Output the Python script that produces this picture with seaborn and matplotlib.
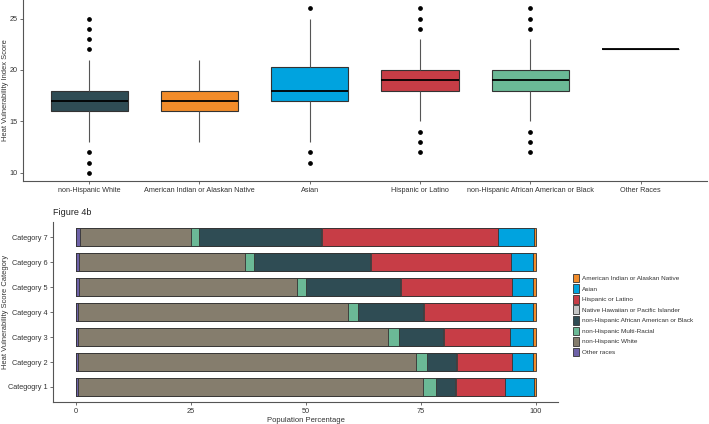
import numpy as np
import pandas as pd
import matplotlib
matplotlib.use('Agg')
import matplotlib.pyplot as plt
from matplotlib.patches import Patch
import seaborn as sns

# top panel: heat vulnerability index score by group (score -> count of tracts)
groups = ['non-Hispanic White', 'American Indian or Alaskan Native', 'Asian',
          'Hispanic or Latino', 'non-Hispanic African American or Black', 'Other Races']
group_colors = ['#2F4C54', '#F28C2A', '#00A3DF', '#C73D46', '#6BB996', '#2F4C54']

white_scores = [10, 11, 12, 13, 14, 15, 16, 17, 18, 19, 20, 21, 22, 23, 24, 25]
white_counts = [1, 1, 1, 2, 5, 10, 20, 25, 20, 10, 5, 2, 1, 1, 1, 1]
aian_scores = [13, 14, 15, 16, 17, 18, 19, 20, 21]
aian_counts = [1, 3, 8, 20, 25, 20, 8, 3, 1]
asian_scores = [11, 12, 13, 14, 15, 16, 17, 18, 19, 20, 21, 22, 23, 24, 25, 26]
asian_counts = [1, 1, 2, 3, 4, 7, 15, 12, 8, 7, 8, 5, 3, 2, 1, 1]
hisp_scores = [12, 13, 14, 15, 16, 17, 18, 19, 20, 21, 22, 23, 24, 25, 26]
hisp_counts = [1, 1, 1, 3, 6, 12, 25, 30, 25, 12, 6, 3, 1, 1, 1]
black_scores = [12, 13, 14, 15, 16, 17, 18, 19, 20, 21, 22, 23, 24, 25, 26]
black_counts = [1, 1, 1, 3, 6, 12, 25, 30, 25, 12, 6, 3, 1, 1, 1]
other_scores = [22]
other_counts = [3]

# bottom panel: population percentage by HVI score category (top to bottom)
categories = ['Category 7', 'Category 6', 'Category 5', 'Category 4',
              'Category 3', 'Category 2', 'Categogry 1']
races = ['Other races', 'non-Hispanic White', 'non-Hispanic Multi-Racial',
         'non-Hispanic African American or Black', 'Native Hawaiian or Pacific Islander',
         'Hispanic or Latino', 'Asian', 'American Indian or Alaskan Native']
other_pct = [0.8, 0.7, 0.6, 0.5, 0.5, 0.5, 0.5]
white_pct = [24.1, 36.1, 47.4, 58.7, 67.4, 73.5, 74.9]
multi_pct = [1.9, 1.8, 2.1, 2.2, 2.3, 2.3, 2.8]
black_pct = [26.4, 25.4, 20.4, 14.1, 9.6, 6.3, 4.3]
nhpi_pct = [0.2, 0.2, 0.2, 0.2, 0.2, 0.2, 0.2]
hisp_pct = [38.4, 30.4, 24.0, 18.8, 14.4, 11.9, 10.6]
asian_pct = [7.8, 4.8, 4.7, 4.8, 4.9, 4.6, 6.2]
aian_pct = [0.4, 0.6, 0.6, 0.7, 0.7, 0.7, 0.5]
race_colors = ['#6E62A8', '#857D6D', '#6BB996', '#2F4C54', '#C6C6C6',
               '#C73D46', '#00A3DF', '#F28C2A']

sns.set_style('ticks')
plt.rcParams['font.family'] = ['Liberation Sans', 'DejaVu Sans']

fig = plt.figure(figsize=(7.09, 4.24), dpi=100)

# ---- top: boxplots
score_lists = [(white_scores, white_counts), (aian_scores, aian_counts),
               (asian_scores, asian_counts), (hisp_scores, hisp_counts),
               (black_scores, black_counts), (other_scores, other_counts)]
rows = []
for g, (s, c) in zip(groups, score_lists):
    for v in np.repeat(s, c):
        rows.append((g, v))
box_df = pd.DataFrame(rows, columns=['group', 'score'])

ax1 = fig.add_axes([0.0324, 0.573, 0.9646, 0.427])
sns.boxplot(data=box_df, x='group', y='score', hue='group', order=groups,
            hue_order=groups, palette=group_colors, width=0.7, ax=ax1,
            legend=False, showcaps=False, saturation=1,
            boxprops=dict(edgecolor='#333333', linewidth=0.8),
            whiskerprops=dict(color='#555555', linewidth=0.8),
            medianprops=dict(color='black', linewidth=1.3),
            flierprops=dict(marker='o', markerfacecolor='black',
                            markeredgecolor='black', markersize=2.4))
ax1.set_xlim(-0.6, 5.6)
ax1.set_ylim(9.2, 26.8)
ax1.set_yticks([10, 15, 20, 25])
ax1.set_xlabel('')
ax1.set_ylabel('Heat Vulnerability Index Score', fontsize=5.4, color='#333333')
ax1.yaxis.set_label_coords(-0.0205, 0.5)
ax1.tick_params(labelsize=5.2, colors='#555555', length=2, width=0.6, pad=2,
                labelcolor='#333333')

# ---- bottom: stacked horizontal bars
ax2 = fig.add_axes([0.0748, 0.052, 0.7122, 0.424])
pct = np.array([other_pct, white_pct, multi_pct, black_pct, nhpi_pct,
                hisp_pct, asian_pct, aian_pct])
cum = np.cumsum(pct, axis=0)
for i in range(len(races) - 1, -1, -1):
    sns.barplot(x=cum[i], y=categories, orient='h', color=race_colors[i],
                saturation=1, width=0.7, edgecolor='#333333', linewidth=0.6, ax=ax2)
ax2.set_xlim(-5, 104.8)
ax2.set_ylim(6.6, -0.6)
ax2.set_xticks([0, 25, 50, 75, 100])
ax2.set_xlabel('Population Percentage', fontsize=5.5, color='#333333', labelpad=2)
ax2.set_ylabel('Heat Vulnerability Score Category', fontsize=5.4, color='#333333')
ax2.yaxis.set_label_coords(-0.087, 0.5)
ax2.tick_params(labelsize=5.3, colors='#555555', length=2, width=0.6, pad=2,
                labelcolor='#333333')
ax2.set_title('Figure 4b', fontsize=6.5, loc='left', x=0.0, pad=5, color='#222222')

for ax in (ax1, ax2):
    sns.despine(ax=ax)
    for sp in ('left', 'bottom'):
        ax.spines[sp].set_color('#555555')
        ax.spines[sp].set_linewidth(0.8)

handles = [Patch(facecolor=race_colors[i], edgecolor='#333333', linewidth=0.6,
                 label=races[i]) for i in range(len(races) - 1, -1, -1)]
fig.legend(handles=handles, loc='center left', bbox_to_anchor=(0.803, 0.257),
           frameon=False, fontsize=4.6, handlelength=1.0, handleheight=1.7,
           handletextpad=0.5, labelspacing=0.3, borderpad=0, labelcolor='#333333')

fig.savefig('out.png', dpi=100)
